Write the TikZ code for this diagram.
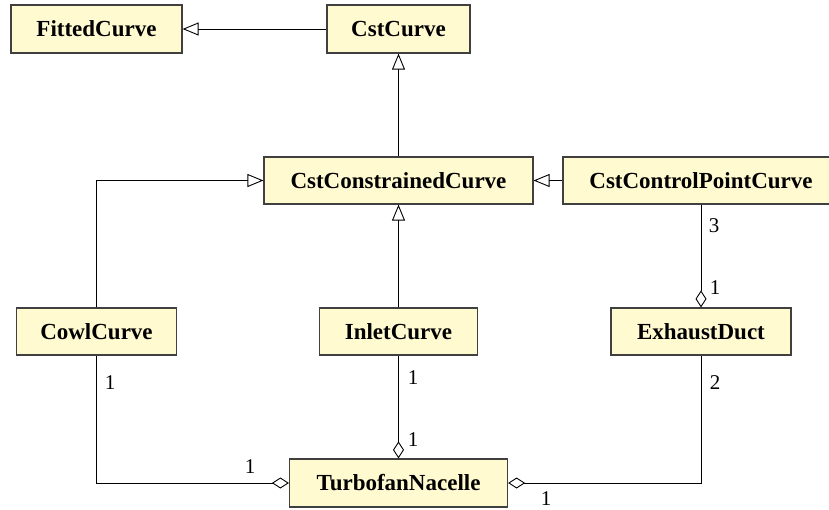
\documentclass[tikz,border=0pt]{standalone}
\usepackage{fontspec}
\setmainfont{Liberation Serif}
\usetikzlibrary{arrows.meta}

\definecolor{classfill}{RGB}{255,250,208}
\definecolor{classdraw}{RGB}{64,64,64}

\tikzset{
  classbox/.style={draw=classdraw, line width=1.2pt, fill=classfill,
    inner sep=0pt, font=\fontsize{23}{26}\selectfont\bfseries},
  link/.style={draw=black, line width=0.9pt},
  inherit/.style={link, -{Triangle[open, length=16pt, width=13pt]}},
  aggr/.style={link, {Diamond[open, length=17pt, width=11pt]}-},
  mult/.style={font=\fontsize{21}{24}\selectfont, inner sep=0pt},
}

\begin{document}
\begin{tikzpicture}[x=1pt, y=-1pt]
  \useasboundingbox (0,0) rectangle (829,509);

  % classes
  \node[classbox, minimum width=171pt, minimum height=48pt] (fitted) at (96.5,29) {FittedCurve};
  \node[classbox, minimum width=143pt, minimum height=48pt] (cst) at (398.5,29) {CstCurve};
  \node[classbox, minimum width=269pt, minimum height=47pt] (constrained) at (398.5,180.5) {CstConstrainedCurve};
  \node[classbox, minimum width=276pt, minimum height=47pt] (ctrl) at (701,180.5) {CstControlPointCurve};
  \node[classbox, minimum width=160pt, minimum height=47pt] (cowl) at (96.5,331.5) {CowlCurve};
  \node[classbox, minimum width=158pt, minimum height=47pt] (inlet) at (398.5,331.5) {InletCurve};
  \node[classbox, minimum width=180pt, minimum height=47pt] (exhaust) at (701,331.5) {ExhaustDuct};
  \node[classbox, minimum width=218pt, minimum height=48pt] (nacelle) at (398.5,483) {TurbofanNacelle};

  % generalisations
  \draw[inherit] (cst.west) -- (fitted.east);
  \draw[inherit] (constrained.north) -- (cst.south);
  \draw[inherit] (ctrl.west) -- (constrained.east);
  \draw[inherit] (cowl.north) |- (constrained.west);
  \draw[inherit] (inlet.north) -- (constrained.south);

  % aggregations
  \draw[aggr] (exhaust.north) -- (ctrl.south);
  \draw[aggr] (nacelle.north) -- (inlet.south);
  \draw[aggr] (nacelle.west) -| (cowl.south);
  \draw[aggr] (nacelle.east) -| (exhaust.south);

  % multiplicities
  \node[mult] (m3) at (714,226) {3};
  \node[mult] (m1e) at (715,288) {1};
  \node[mult] (m1c) at (110,383) {1};
  \node[mult] (m1i) at (413,378) {1};
  \node[mult] (m1n) at (413,440) {1};
  \node[mult] (m2) at (715,383) {2};
  \node[mult] (m1l) at (250,467) {1};
  \node[mult] (m1r) at (546,499) {1};
\end{tikzpicture}
\end{document}
